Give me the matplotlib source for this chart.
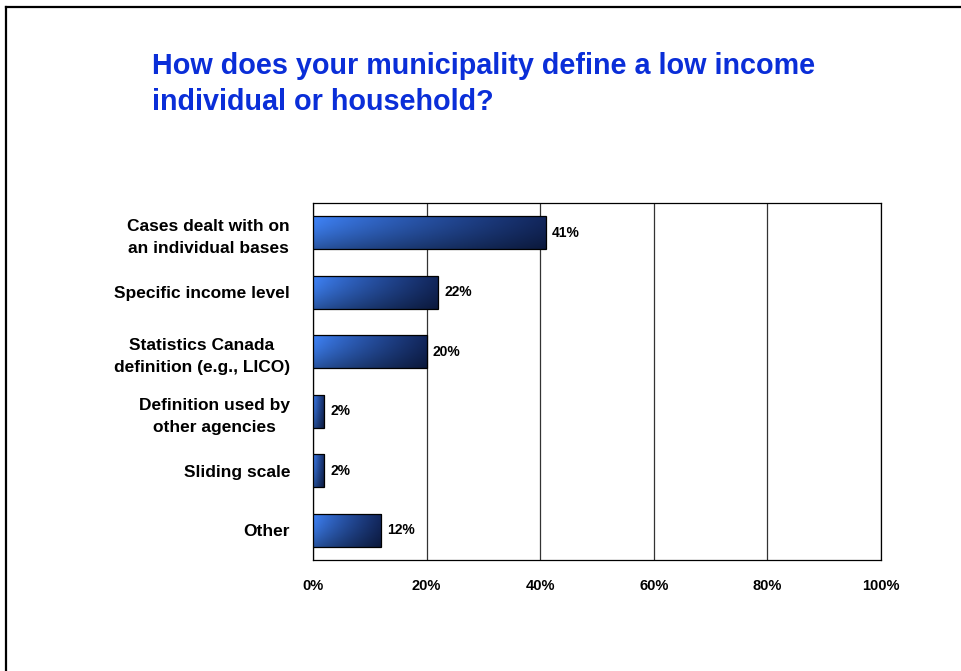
import numpy as np
import matplotlib
matplotlib.use("Agg")
import matplotlib.pyplot as plt
from matplotlib.patches import Rectangle
from matplotlib.lines import Line2D

categories = [
    "Cases dealt with on\nan individual bases",
    "Specific income level",
    "Statistics Canada\ndefinition (e.g., LICO)",
    "Definition used by\nother agencies",
    "Sliding scale",
    "Other",
]
values = [41, 22, 20, 2, 2, 12]
xticks = [0, 20, 40, 60, 80, 100]
xtick_labels = ["0%", "20%", "40%", "60%", "80%", "100%"]
title = "How does your municipality define a low income\nindividual or household?"

plt.rcParams['font.family'] = ['Liberation Sans', 'DejaVu Sans']

fig = plt.figure(figsize=(9.61, 6.71), dpi=100)
ax = fig.add_axes([313/961, 1-560/671, (881-313)/961, (560-203)/671])

# frame around figure (top and left)
fig.add_artist(Line2D([5.5/961, 5.5/961], [0, 1-6.5/671], transform=fig.transFigure, color='black', lw=1.6))
fig.add_artist(Line2D([5.5/961, 1], [1-6.5/671, 1-6.5/671], transform=fig.transFigure, color='black', lw=1.6))

fig.text(152/961, 1-52/671, title, color='#0a2ed8', fontsize=20.7, fontweight='bold',
         ha='left', va='top', linespacing=1.36)

n = len(categories)
ypos = np.arange(n)
h = 0.55

light = np.array([0.25, 0.52, 0.98])
dark = np.array([0.07, 0.15, 0.36])
nx, ny = 200, 40
tx = np.linspace(0, 1, nx)
ty = np.linspace(0, 1, ny)[:, None]
base = light[None, None, :] * (1 - tx[None, :, None]**0.8) + dark[None, None, :] * (tx[None, :, None]**0.8)
vfac = 1.0 - 0.35 * ty[:, :, None]**1.5
img = np.clip(base * vfac, 0, 1)

for y, v in zip(ypos, values):
    ax.imshow(img, extent=[0, v, y + h/2, y - h/2], aspect='auto', zorder=3, interpolation='bilinear')
    ax.add_patch(Rectangle((0, y - h/2), v, h, fill=False, edgecolor='black', lw=0.9, zorder=4))
    ax.text(v + 1.1, y, f"{v}%", va='center', ha='left', fontsize=10, fontweight='bold', zorder=5)

ax.set_xlim(0, 100)
ax.set_ylim(n - 0.5, -0.5)
ax.set_xticks(xticks)
ax.set_xticklabels(xtick_labels, fontsize=10.5, fontweight='bold')
ax.set_yticks(ypos)
ax.set_yticklabels(categories, fontsize=12.5, fontweight='bold', ha='right',
                   multialignment='center', linespacing=1.6)
ax.tick_params(axis='y', length=0, pad=16.5)
ax.tick_params(axis='x', length=0, pad=14)
ax.xaxis.grid(True, color='#333333', lw=0.9, zorder=1)
ax.set_axisbelow(True)
for s in ax.spines.values():
    s.set_color('black')
    s.set_linewidth(0.9)

fig.savefig("out.png", dpi=100)
